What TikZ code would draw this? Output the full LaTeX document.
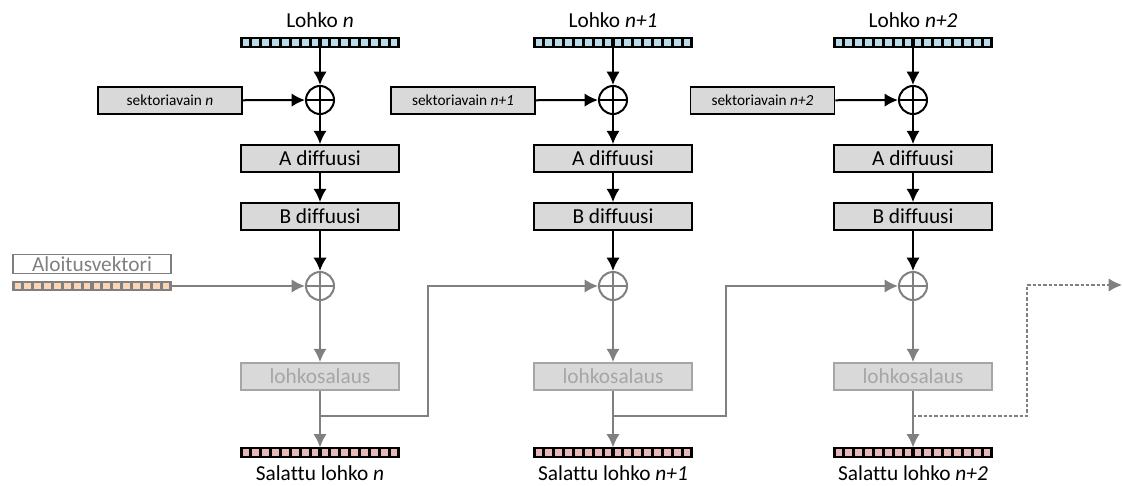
\documentclass[tikz,border=0pt]{standalone}
\usepackage{fontspec}
\setmainfont{Carlito}[Ligatures=NoCommon]
\usetikzlibrary{arrows.meta,calc,positioning}

\definecolor{bitblue}{HTML}{B7DDE8}
\definecolor{bitpeach}{HTML}{FCD5B4}
\definecolor{bitpink}{HTML}{E6B9B8}
\definecolor{boxgray}{HTML}{D9D9D9}
\definecolor{linegray}{HTML}{808080}
\definecolor{fadegray}{HTML}{A6A6A6}

\tikzset{
  block/.style={draw, line width=1.3pt, fill=boxgray, minimum width=118.5pt,
    minimum height=20.25pt, inner sep=0pt, font=\fontsize{16}{19}\selectfont},
  keyblock/.style={block, minimum width=108pt, font=\fontsize{11.5}{14}\selectfont},
  fadeblock/.style={block, draw=fadegray, text=fadegray},
  xor/.style={draw=#1, circle, line width=1.5pt, minimum size=21pt, inner sep=0pt,
    path picture={\draw[#1, line width=1.5pt]
      (path picture bounding box.north) -- (path picture bounding box.south)
      (path picture bounding box.west) -- (path picture bounding box.east);}},
  xor/.default=black,
  % a row of 16 bits
  bits/.style 2 args={draw=#2, fill=#2, line width=0.8pt, minimum width=118.5pt,
    minimum height=6.75pt, inner sep=0pt,
    path picture={\foreach \k in {0,...,15}
      \fill[#1] ($(path picture bounding box.south west)+(\k*7.406pt+1.2pt,1.1pt)$)
        rectangle ++(5pt,4.55pt);}},
  label/.style={font=\fontsize{16}{19}\selectfont},
  flow/.style={->, line width=1.5pt},
  gflow/.style={->, line width=1.5pt, linegray}
}

\begin{document}
\begin{tikzpicture}[x=0.75pt, y=-0.75pt, >={Latex[length=10pt,width=10pt]}]
  \useasboundingbox (0,0) rectangle (1123,485);

  % one column per block
  \foreach \i/\x/\n/\kx in {1/320/n/170, 2/613/n+1/463, 3/913/n+2/762.5} {
    \node [label] (title\i) at (\x,20) {Lohko \textit{\n}};
    \node [bits={bitblue}{black}] (in\i) at (\x,42.5) {};
    \node [xor] (xa\i) at (\x,100) {};
    \node [keyblock] (key\i) at (\kx,100.5) {sektoriavain \textit{\n}};
    \node [block] (diffA\i) at (\x,158.5) {A diffuusi};
    \node [block] (diffB\i) at (\x,216.5) {B diffuusi};
    \node [xor=linegray] (xb\i) at (\x,286) {};
    \node [fadeblock] (enc\i) at (\x,376.5) {lohkosalaus};
    \node [bits={bitpink}{black}] (out\i) at (\x,452.5) {};
    \node [label] (name\i) at (\x,473) {Salattu lohko \textit{\n}};
    \coordinate (tap\i) at (\x,416);

    \draw [flow] (in\i) -- (xa\i);
    \draw [flow] (key\i) -- (xa\i);
    \draw [flow] (xa\i) -- (diffA\i);
    \draw [flow] (diffA\i) -- (diffB\i);
    \draw [flow] (diffB\i) -- (xb\i);
    \draw [gflow] (xb\i) -- (enc\i);
    \draw [gflow] (enc\i) -- (out\i);
  }

  % initialisation vector
  \node [block, fill=white, draw=linegray, text=linegray, minimum height=14.25pt] (ivname) at (92,264) {Aloitusvektori};
  \node [bits={bitpeach}{linegray}] (iv) at (92,286) {};
  \draw [gflow] (iv) -- (xb1);

  % chaining to the next block
  \coordinate (jog1) at (428,350);
  \coordinate (jog2) at (726,350);
  \coordinate (jog3) at (1027,350);
  \coordinate (next) at (1122,285);
  \draw [gflow] (tap1) -| (jog1) |- (xb2);
  \draw [gflow] (tap2) -| (jog2) |- (xb3);
  \draw [gflow, line width=1.2pt, dash pattern=on 2.5pt off 1.5pt] (tap3) -| (jog3) |- (next);
\end{tikzpicture}
\end{document}
